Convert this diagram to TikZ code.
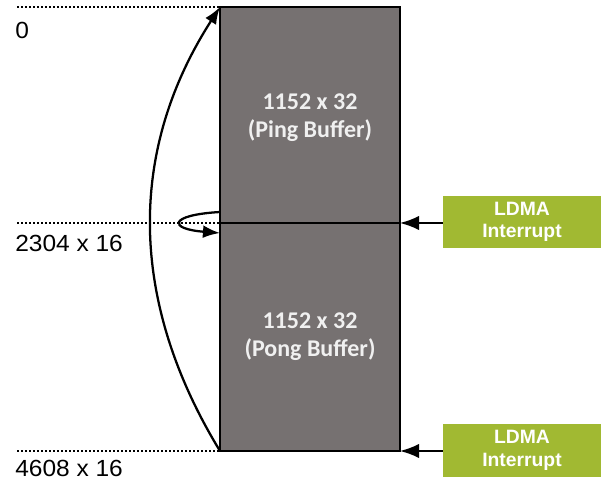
\documentclass[tikz,border=0pt]{standalone}
\usepackage{fontspec}
\setmainfont{Liberation Sans}
\newfontfamily\calibrifont{Carlito}
\usetikzlibrary{arrows.meta}

\definecolor{bufgray}{RGB}{118,113,113}
\definecolor{bufText}{RGB}{240,240,240}
\definecolor{ldmagreen}{RGB}{161,185,50}

\tikzset{
  buffer/.style={draw=black,line width=1.4pt,fill=bufgray},
  buftext/.style={text=bufText,align=center,font=\calibrifont\bfseries\fontsize{18}{21}\selectfont},
  addr/.style={anchor=west,inner sep=0pt,font=\fontsize{17.5}{20}\selectfont,xscale=1.05,transform shape},
  irq/.style={fill=ldmagreen,text=white,align=center,minimum width=118.5pt,minimum height=39.5pt,inner sep=0pt,font=\bfseries\fontsize{14.5}{17}\selectfont},
  guide/.style={dash pattern=on 1.5pt off 1.5pt,line width=1.2pt},
  tip/.style={line width=1.2pt,arrows={-Latex[scale=1.7]}},
  wrap/.style={line width=1.7pt,arrows={-Latex[scale=1.2]}}
}

\begin{document}
\begin{tikzpicture}[x=0.75pt,y=-0.75pt,>=Latex]
  \useasboundingbox (0,0) rectangle (601,484);
  % buffers
  \coordinate (pingtl) at (220,7);
  \coordinate (pingtr) at (400,7);
  \coordinate (midl) at (220,223);
  \coordinate (midr) at (400,223);
  \coordinate (pongbl) at (220,451);
  \coordinate (pongbr) at (400,451);
  \draw[buffer] (pingtl) rectangle (midr);
  \draw[buffer] (midl) rectangle (pongbr);
  \node[buftext] (ping) at (310,118) {1152 x 32\\(Ping Buffer)};
  \node[buftext] (pong) at (310,337) {1152 x 32\\(Pong Buffer)};

  % address marks
  \coordinate (gtop) at (17,7);
  \coordinate (gmid) at (17,223);
  \coordinate (gend) at (17,451);
  \draw[guide] (gtop) -- (pingtl);
  \draw[guide] (gmid) -- (midl);
  \draw[guide] (gend) -- (pongbl);
  \node[addr] (lzero) at (15,30) {0};
  \node[addr] (lmid) at (15,243) {2304 x 16};
  \node[addr] (lend) at (15,468) {4608 x 16};

  % interrupts
  \node[irq] (irqa) at (522,222) {LDMA\\Interrupt};
  \node[irq] (irqb) at (522,450.5) {LDMA\\Interrupt};
  \draw[tip] (irqa.west |- midr) -- (midr);
  \draw[tip] (irqb.west |- pongbr) -- (pongbr);

  % wrap around
  \draw[wrap] (pongbl) .. controls (128,300) and (128,150) .. (pingtl);
  \coordinate (loopa) at (220,212);
  \coordinate (loopb) at (220,233);
  \draw[wrap] (loopa) .. controls (168,215) and (168,229) .. (loopb);
\end{tikzpicture}
\end{document}
